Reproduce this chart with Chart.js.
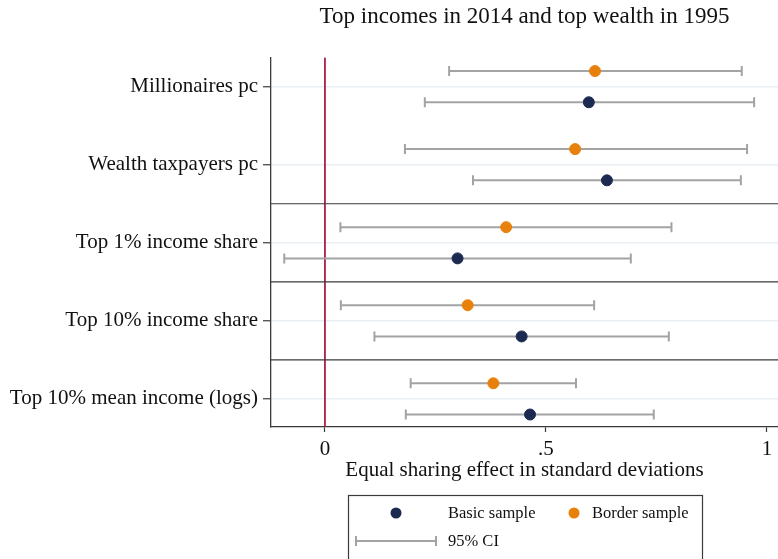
<!DOCTYPE html>
<html>
<head>
<meta charset="utf-8">
<script src="https://cdn.jsdelivr.net/npm/chart.js@4.4.1/dist/chart.umd.min.js"></script>
<style>
  html, body { margin: 0; padding: 0; background: #fff; }
</style>
</head>
<body>
<canvas id="coefPlot" width="778" height="559"></canvas>
<script>
const categories = ['Millionaires pc', 'Wealth taxpayers pc', 'Top 1% income share', 'Top 10% income share', 'Top 10% mean income (logs)'];

// basic sample: estimate and 95% CI bounds
const basicEst = [0.597, 0.638, 0.300, 0.445, 0.464];
const basicLo  = [0.226, 0.335, -0.092, 0.112, 0.183];
const basicHi  = [0.971, 0.941, 0.692, 0.778, 0.744];

// border sample
const borderEst = [0.611, 0.566, 0.410, 0.323, 0.381];
const borderLo  = [0.281, 0.181, 0.035, 0.036, 0.194];
const borderHi  = [0.943, 0.955, 0.784, 0.609, 0.568];

const xTicks = [0, 0.5, 1];
const xTickLabels = ['0', '.5', '1'];
const groupBreaks = [1.5, 2.5, 3.5];

const X_MIN = -0.122, X_MAX = 1.025;
const Y_MIN = -0.372, Y_MAX = 4.36;
const OFFSET = 0.2; // border sample above, basic below the row line

const NAVY = '#1c2a52';
const ORANGE = '#e8800c';
const CI_GREY = '#a3a3a3';
const AXIS = '#3a3a3a';
const SERIF = "'Liberation Serif', 'Times New Roman', serif";

function ciDataset(lo, hi, y) {
    return {
        type: 'line',
        data: [{ x: lo, y: y }, { x: hi, y: y }],
        borderColor: CI_GREY,
        borderWidth: 2,
        pointStyle: 'line',
        rotation: 90,
        pointRadius: 5,
        pointBorderColor: CI_GREY,
        pointBorderWidth: 2,
        order: 2,
    };
}

function refLine(points, color, width) {
    return {
        type: 'line',
        data: points,
        borderColor: color,
        borderWidth: width,
        pointRadius: 0,
        order: 3,
    };
}

const datasets = [
    {
        label: 'Border sample',
        data: borderEst.map((v, i) => ({ x: v, y: i - OFFSET })),
        backgroundColor: ORANGE,
        borderColor: ORANGE,
        pointRadius: 5.5,
        order: 0,
    },
    {
        label: 'Basic sample',
        data: basicEst.map((v, i) => ({ x: v, y: i + OFFSET })),
        backgroundColor: NAVY,
        borderColor: NAVY,
        pointRadius: 5.5,
        order: 0,
    },
];

categories.forEach((c, i) => {
    datasets.push(ciDataset(borderLo[i], borderHi[i], i - OFFSET));
    datasets.push(ciDataset(basicLo[i], basicHi[i], i + OFFSET));
});

groupBreaks.forEach(y => {
    datasets.push(refLine([{ x: X_MIN, y: y }, { x: X_MAX, y: y }], AXIS, 1.2));
});
datasets.push(refLine([{ x: 0, y: Y_MIN }, { x: 0, y: Y_MAX }], '#a8163f', 1));

// stata-style legend box under the axis
const sampleLegend = {
    id: 'sampleLegend',
    afterDraw(chart) {
        const ctx = chart.ctx;
        ctx.save();
        ctx.fillStyle = '#fff';
        ctx.fillRect(348.5, 495.5, 354, 80);
        ctx.strokeStyle = AXIS;
        ctx.lineWidth = 1.2;
        ctx.strokeRect(348.5, 495.5, 354, 80);

        ctx.fillStyle = NAVY;
        ctx.beginPath();
        ctx.arc(396, 513, 5.5, 0, Math.PI * 2);
        ctx.fill();
        ctx.fillStyle = ORANGE;
        ctx.beginPath();
        ctx.arc(574, 513, 5.5, 0, Math.PI * 2);
        ctx.fill();

        ctx.strokeStyle = CI_GREY;
        ctx.lineWidth = 2;
        ctx.beginPath();
        ctx.moveTo(356, 541); ctx.lineTo(436, 541);
        ctx.moveTo(356, 536); ctx.lineTo(356, 546);
        ctx.moveTo(436, 536); ctx.lineTo(436, 546);
        ctx.stroke();

        ctx.fillStyle = '#111';
        ctx.font = '16.5px ' + SERIF;
        ctx.textBaseline = 'middle';
        ctx.textAlign = 'left';
        ctx.fillText('Basic sample', 448, 514);
        ctx.fillText('Border sample', 592, 514);
        ctx.fillText('95% CI', 448, 542);
        ctx.restore();
    }
};

new Chart(document.getElementById('coefPlot'), {
    type: 'scatter',
    data: { datasets: datasets },
    plugins: [sampleLegend],
    options: {
        responsive: false,
        animation: false,
        devicePixelRatio: 1,
        layout: { autoPadding: false, padding: { left: 0, right: 0, top: 0, bottom: 76 } },
        plugins: {
            legend: { display: false },
            tooltip: { enabled: false },
            title: {
                display: true,
                text: 'Top incomes in 2014 and top wealth in 1995',
                fullSize: false,
                color: '#111',
                font: { family: SERIF, size: 23, weight: 'normal' },
                padding: { top: 3, bottom: 27 },
            },
        },
        scales: {
            x: {
                type: 'linear',
                min: X_MIN,
                max: X_MAX,
                afterBuildTicks: s => { s.ticks = xTicks.map(v => ({ value: v })); },
                afterFit: s => { s.height = 56; s.paddingLeft = 0; s.paddingRight = 0; },
                ticks: {
                    color: '#111',
                    font: { family: SERIF, size: 21 },
                    padding: 5,
                    maxRotation: 0,
                    callback: v => xTickLabels[xTicks.indexOf(v)],
                },
                grid: { drawOnChartArea: false, tickLength: 5, tickColor: AXIS, tickWidth: 1.2 },
                border: { color: AXIS, width: 1.3 },
                title: {
                    display: true,
                    text: 'Equal sharing effect in standard deviations',
                    color: '#111',
                    font: { family: SERIF, size: 21 },
                    padding: { top: 0, bottom: 0 },
                },
            },
            y: {
                type: 'linear',
                reverse: true,
                min: Y_MIN,
                max: Y_MAX,
                afterBuildTicks: s => { s.ticks = categories.map((c, i) => ({ value: i })); },
                afterFit: s => { s.width = 271; s.paddingTop = 0; s.paddingBottom = 0; },
                ticks: {
                    color: '#111',
                    font: { family: SERIF, size: 21 },
                    padding: 5,
                    callback: v => categories[v],
                },
                grid: { color: '#e9eff3', lineWidth: 1.5, tickLength: 8, tickColor: AXIS, tickWidth: 1.2 },
                border: { color: AXIS, width: 1.3 },
            },
        },
    },
});
</script>
</body>
</html>
